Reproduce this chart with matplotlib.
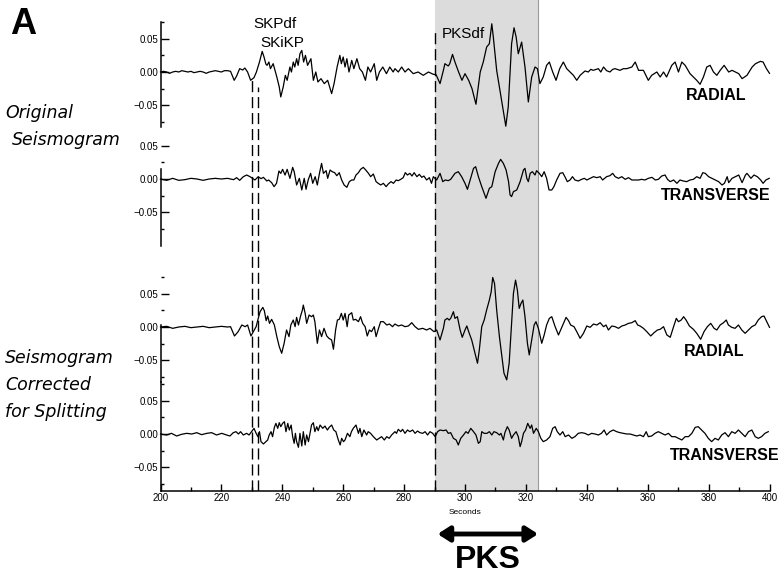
import numpy as np
import matplotlib
matplotlib.use("Agg")
import matplotlib.pyplot as plt
from matplotlib.ticker import FixedLocator, FixedFormatter

# ---------------- data (time in s, amplitude in units of 1e-3) ----------------
AMP_UNIT = 1e-3

radial_original = [
    (200, 0), (201, 1), (202, 0), (203, -2), (204, 0), (205, 1), (206, 0), (207, 2), (208, 1), (209, 0),
    (210, 1), (211, -1), (212, 0), (213, 1), (214, 0), (215, -2), (216, 0), (217, 1), (218, 2), (219, 1),
    (220, 0), (221, 2), (222, 2), (223, 1),
    (224.2, -12.5), (225, -6), (226, 5), (227, 3), (227.7, 6), (228.6, 0), (229.6, -12.5), (230.7, -8.5),
    (231.5, 0), (232.5, 15), (233.4, 31), (234, 22.5), (234.6, 12), (235, 10), (235.6, 15), (236.1, 5),
    (237, 12.5), (238.2, -7.5), (239, -22.5), (239.5, -37.5), (240.3, -22.5), (241, -5), (241.6, -12.5),
    (242.5, 7.5), (243, 0), (243.6, 15), (244.1, 7.5), (244.7, 20), (245.2, 10), (245.8, 27.5), (246.4, 32.5),
    (247, 15), (247.6, 25), (248.3, 10), (249.4, 20), (250.2, -12.5), (251, 0), (251.7, -15), (252.7, -10),
    (253.8, -17.5), (254.9, -12.5), (256.2, -32.5), (257, -17.5), (258, 7.5), (258.9, 25), (259.4, 12.5),
    (260, 22.5), (260.6, 7.5), (261.2, 20), (261.9, 0), (262.8, 17.5), (263.5, 5), (264.5, 20), (265.4, 5),
    (266.3, 0), (267.3, -12.5), (268.1, 7.5), (269, 0), (270.2, 12.5), (271, -12.5), (271.9, 0), (273, 7.5),
    (274.2, -2.5), (275.3, 7.5), (276.4, 0), (277, 5), (278.1, 0), (279.2, 7.5), (280.3, 0), (281.4, 5),
    (283, -2.5), (284.6, 0), (286.3, -5), (288, 0), (289.6, -3.5),
    (290.5, -4), (291.8, -17.5), (292.9, 2.5), (293.4, 12.5), (294.5, 9), (295, 12.5), (295.9, 26.5),
    (296.7, 15), (297.9, 0), (299, -12.5), (300, -2.5), (301.2, -12.5), (302.3, -25), (303.6, -48.5),
    (305, 0), (306, 15), (307.1, 37.5), (308, 42.5), (308.8, 72.5), (309.3, 52.5), (310.4, 2.5),
    (312, -42.5), (313.4, -81.5), (314.2, -52.5), (315.3, 42.5), (316.1, 66.5), (316.8, 52.5),
    (317.5, 27.5), (318.6, 45), (319.7, 7.5), (320.8, -45), (321.9, -7.5), (323, 7.5), (323.8, 5),
    (324.6, -17.5), (325.7, -7.5), (326.8, 10), (327.7, 15), (328.8, 0), (329.9, -12.5), (331.1, 5),
    (332.3, 15), (333.4, 5), (334.5, 0), (335.6, -5), (336.7, -12.5), (337.8, -5), (339.4, 1.5),
    (340.5, 0), (341.3, 4), (342.1, 2.5), (343.8, 5), (344.6, 0), (345.5, 7.5), (346.5, 2), (347.6, 0),
    (348.5, 4), (349.3, 5), (350.9, 2.5), (352, 5), (353.1, 5), (354.8, 7.5), (355.9, 15), (357, 2.5),
    (358.6, 2.5), (360.2, -12.5), (361.3, -5), (363, 0), (364.1, -7.5), (365.2, 0), (366.2, -7.5),
    (367.9, 10), (369, 15), (370.1, 0), (371.2, 15), (372.3, 10), (373.9, -2.5), (375, -7.5),
    (376.1, -12.5), (377.2, -18.5), (378.3, -7.5), (379.4, 7.5), (380.5, 10), (381.6, 0), (382.7, -5),
    (383.8, 2.5), (385.1, 10), (386.6, 0), (387.7, 2.5), (388.8, 0), (389.9, -2.5), (391, -10),
    (392.6, -5), (394.3, 7.5), (395.4, 12.5), (397, 16), (397.9, 15), (399, 5), (400, -2),
]

transverse_original = [
    (200, 0), (202, -2), (204, 1), (206, -2), (208, -1), (210, 1), (212, 0), (214, -2), (216, 0), (218, 1),
    (220, 0), (222, 1), (224, -1), (225, 2), (226, -2),
    (227.2, 3.5), (228.3, 6), (229.4, 3.5), (230.2, 1), (231, -1.5), (232.1, 3.5), (233, 0.5), (233.8, 2.5),
    (234.9, -3), (235.5, -1.5), (236.5, -5.5), (237.3, -11.5), (238.1, -6.5), (238.9, 12), (239.5, 8.5),
    (240.1, 14.5), (240.9, 6), (241.6, 14.5), (242.5, 1), (243.4, 17.5), (243.9, 11), (244.7, -9),
    (245.6, 1), (246.4, -16.5), (247.2, 1), (247.8, -15.5), (248.5, -1.5), (249.3, 8.5), (250, -6.5),
    (250.8, 3.5), (251.5, -9), (252.2, 8.5), (252.9, 23.5), (253.5, 8.5), (254.4, 12.5), (254.9, 1),
    (255.7, 13.5), (256.4, 11), (257.2, 9.5), (257.9, 5), (258.7, 9.5), (259.5, -1.5), (260.3, -9),
    (261.2, -12.5), (262, -4), (262.8, -1.5), (263.5, -1.5), (264.2, 6), (265, 9.5), (265.7, 14.5),
    (266.6, 17.5), (267.4, 13.5), (268.3, 8.5), (269, 3.5), (269.9, 7.5), (270.8, -4), (271.5, -6.5),
    (272.3, -9), (273.2, -6.5), (274.1, -11.5), (274.8, -7.5), (275.7, -4), (276.5, -6.5), (277.4, -1.5),
    (278.1, -2.5), (278.9, -0.5), (279.7, 2), (280.4, 9.5), (281.1, 6), (281.9, 8.5), (282.6, 4.5),
    (283.3, 9.5), (284.2, 3.5), (285, 7), (285.8, 2.5), (286.5, 4.5), (287.4, -1.5), (288.3, 2), (289, -6.5),
    (289.6, 3.5), (290.7, -1.5), (291.8, 8.5), (292.7, -4), (293.5, -1.5), (294.5, -2.5), (295.3, -0.5),
    (296.7, 8.5), (297.8, 11), (298.9, 3.5), (300, -6.5), (300.8, -15.5), (301.7, -1.5), (302.8, 16),
    (303.5, 18.5), (304.4, 3.5), (305.5, -11.5), (306.9, -29), (308, -14), (308.8, -11.5), (309.9, 11),
    (311, 23.5), (311.7, 29.5), (312.6, 23.5), (313.5, 13.5), (314.3, -4), (314.8, -24), (315.3, -26.5),
    (315.9, -19), (317, -16.5), (318.1, -4), (319.2, 13.5), (319.7, 16), (320.3, 1), (320.8, -4),
    (321.4, 8.5), (322.1, 11), (323, 6), (323.5, 12.5), (324.4, 8.5), (325.2, 3.5), (326, 11), (326.8, 1),
    (327.6, -16.5), (328.5, -16.5), (329.2, -11.5), (330.1, -1.5), (331.2, 8.5), (332.1, 9.5), (332.8, 3.5),
    (333.6, -4), (334.5, -1.5), (335.3, 3.5), (336.1, -1.5), (337.2, -3), (338.3, -0.5), (339.2, 1),
    (340, -1.5), (341.1, 1), (342.2, 3.5), (343.3, 2), (344.4, 3.5), (345.2, -1.5), (346.5, 3.5),
    (347.6, 5), (348.5, 8.5), (349.3, 3.5), (350.4, 1), (351.5, 3.5), (352.6, -0.5), (353.7, 2),
    (354.8, -1.5), (355.9, -1.5), (357, -1.5), (358, -0.5), (359.1, -1.5), (360.2, 1), (361.4, 2.5),
    (362.5, -1.5), (363.5, -0.5), (364.6, 4.5), (365.7, 6), (366.5, -0.5), (367.4, -4), (368.5, -1.5),
    (369.6, -6.5), (370.6, -1.5), (371.7, -3), (372.8, -4), (373.9, -1.5), (375, -0.5), (376.1, 3.5),
    (377.2, 1), (378.1, 9.5), (378.9, 8.5), (380, 3.5), (381.1, 1), (382.2, -1.5), (383.3, -4),
    (384.4, -9), (385.2, -6.5), (386.1, 3.5), (386.6, -5.5), (387.7, 1), (388.8, 3.5), (389.9, 6),
    (391, -5.5), (392.1, 6), (392.6, 8.5), (393.9, 1), (394.9, 6), (396, 3.5), (397.1, -1.5),
    (397.9, -6.5), (398.8, -1.5), (399.9, 1),
]

radial_corrected = [
    (200, 0), (202, 1), (204, -2), (206, 0), (208, 1), (210, -1), (212, 0), (214, 1), (216, -1), (218, 0),
    (220, 1), (222, 0), (223, 0.5),
    (224.3, -13.5), (225.5, -7), (226.7, 3), (227.8, 0.5), (228.6, 3), (229.7, -13.5), (230.5, -7),
    (231.4, 0.5), (232.1, 13), (232.7, 23), (233.6, 29.5), (234.1, 24.5), (234.7, 9.5), (235.2, 16.5),
    (235.8, 5.5), (236.5, 11.5), (237.4, 3), (238.2, -14.5), (239, -29.5), (239.8, -39.5), (240.6, -24.5),
    (241.4, -4.5), (242.2, -14.5), (242.8, 3), (243.6, 10.5), (244.2, 0.5), (244.7, 14.5), (245.3, 3),
    (246, 16.5), (246.6, 25.5), (246.9, 33), (247.5, 20.5), (248, 5.5), (248.8, 18), (249.6, 15.5),
    (250.2, 18), (250.7, 8), (251.5, -24.5), (252.2, -4.5), (252.9, -14.5), (253.7, -2), (254.6, -13.5),
    (255.3, -17), (256.2, -19.5), (256.8, -33.5), (257.5, -4.5), (258.1, 10.5), (258.7, 11.5),
    (259.4, 20.5), (260, 10.5), (260.6, 20.5), (261.3, 0.5), (261.8, 18), (262.8, 21.5), (263.3, 10.5),
    (264.1, 11.5), (265, 8), (265.7, 15.5), (266.4, 5.5), (267.2, 0.5), (267.9, -13.5), (268.6, -4.5),
    (269.3, -7), (270.2, 0.5), (270.8, -14.5), (271.6, -2), (272.3, 8), (273.2, 8), (274.3, 3),
    (275.2, 4.5), (276.2, 0.5), (277, 4.5), (278.1, 1.5), (279.2, 3), (280.3, 0.5), (281.4, 1.5),
    (282.5, 6.5), (283.6, 0.5), (284.7, -3.5), (286.1, -2), (287.4, -4.5), (288.5, -2), (289.8, -7),
    (290.7, -4.5), (291.8, -19.5), (292.9, -2), (293.4, 10.5), (294.2, 13), (294.8, 10.5), (295.3, 13),
    (296.2, 23), (296.7, 13), (297.5, 15.5), (298.4, -4.5), (299.1, -15.5), (300, -4.5), (300.6, 1.5),
    (301.4, -9.5), (302.2, -19.5), (303.3, -39.5), (304.1, -54.5), (304.7, -34.5), (305.5, 0.5),
    (306.3, 10.5), (307.1, 25.5), (308, 40.5), (308.6, 53), (309.1, 74.5), (309.7, 65.5), (310.4, 25.5),
    (311.3, -14.5), (312.1, -44.5), (312.8, -69.5), (313.7, -79.5), (314.5, -54.5), (315.1, -9.5),
    (315.9, 50.5), (316.6, 70.5), (317.2, 55.5), (317.8, 28), (318.4, 35.5), (319, 40.5), (319.7, 15.5),
    (320.5, -24.5), (321.1, -42), (321.9, -19.5), (322.7, 3), (323.3, 8), (324.1, -2), (325.2, -24.5),
    (326, -12), (326.8, 3), (327.7, 13), (328.5, 15.5), (329.6, 0.5), (330.7, -12), (331.4, -4.5),
    (332.3, 5.5), (333.2, 14.5), (334, 9.5), (334.7, 3), (335.8, 0.5), (336.7, -7), (337.8, -17),
    (338.9, -9.5), (340, 1.5), (341.1, -0.5), (342.2, 4.5), (343.3, 3), (344.4, 6.5), (345.5, 0.5),
    (346.3, 3), (347.1, -4.5), (348.2, 1.5), (349.3, 0.5), (350.4, -2), (351.5, 1.5), (352.6, 3),
    (353.7, 5.5), (354.8, 6.5), (355.9, 9.5), (356.7, 3), (357.5, 1.5), (358.6, -2), (359.7, -7),
    (361, -13.5), (362.1, -8.5), (363.2, -4.5), (364.1, -3.5), (365.2, 0.5), (366.3, -12), (367.4, -15.5),
    (368.5, 0.5), (369.4, 13), (370.1, 8), (371, 10.5), (371.8, 15.5), (372.6, 10.5), (373.7, 1.5),
    (375, -3.5), (376.1, -9.5), (377.4, -18.5), (378.5, -7), (379.6, 0.5), (380.7, 5.5), (381.8, -2),
    (382.7, -4.5), (383.8, 3), (384.9, 6.5), (385.8, 10.5), (386.5, 3), (387.6, -0.5), (388.7, -2),
    (389.8, 3), (390.9, -4.5), (392, -9.5), (393.1, -4.5), (394.2, 0.5), (395.3, 3), (396.3, 10.5),
    (397.4, 15.5), (398.2, 16.5), (399.1, 8), (400, -0.5),
]

transverse_corrected = [
    (200, 0), (202, -1.5), (203.6, 1), (205.3, -3), (206.9, -0.5), (208.6, 1), (210.3, 0), (211.9, 2),
    (213.5, -1), (215.2, 1), (216.8, 2), (218.4, -1.5), (220.1, 1), (221.7, -1.5), (222.8, -3), (223.9, 2),
    (224.8, 3.5), (225.6, 0), (226.3, 3.5), (227.2, -1.5), (228.3, 1), (229.1, -1.5), (229.9, 3.5),
    (230.7, 8.5), (231.4, 1), (232, -4), (232.5, 3.5), (233, -11.5), (233.8, -15), (234.6, -11.5),
    (235.2, -9), (235.7, -1.5), (236.3, 3.5), (236.8, -4), (237.4, 10), (237.9, 16), (238.5, 8.5),
    (239, 17), (239.5, 11), (240.1, 16), (240.7, 18.5), (241.2, 3.5), (241.8, 16), (242.3, 6),
    (242.9, 13.5), (243.4, -4), (243.9, -14), (244.3, 1), (244.7, -11.5), (245.3, -20), (245.8, 1),
    (246.4, -18), (246.9, 3.5), (247.5, -16.5), (248, -1.5), (248.6, -11.5), (249.1, 1), (249.6, 13.5),
    (250.2, 17), (250.7, 3.5), (251.3, 11), (251.8, 5), (252.4, 13.5), (253.3, 8.5), (254, 12),
    (254.8, 6), (255.4, 10), (256.2, 13.5), (256.9, 6), (257.6, 3.5), (258.4, -9), (259, -16.5),
    (259.5, -6.5), (260.1, -11.5), (260.6, -9), (261.4, 1), (262.2, -4), (262.7, 3.5), (263.3, 8.5),
    (264.2, 13.5), (265, 1), (265.5, 8.5), (266.1, -4), (266.8, 6), (267.7, -1.5), (268.2, 3.5),
    (269, 1), (269.9, -4), (271, -9), (271.8, -6.5), (272.6, -4), (273.5, -9), (274.3, -4),
    (275.1, -6.5), (275.9, -1.5), (277, 3.5), (277.5, 1), (278.1, 7), (278.9, 3.5), (279.5, 7),
    (280.3, 1), (281.1, 6), (281.9, 3.5), (282.8, 6), (283.6, 1), (284.4, 4.5), (285.2, 2), (286.1, 1),
    (286.9, 3.5), (287.7, -1.5), (288.5, 3.5), (289.4, 1), (290.2, -4), (291, 3.5), (291.8, 6),
    (292.9, 5), (293.8, 6), (294.5, 1), (295.3, 2), (296.2, -6.5), (297.1, -9), (297.8, -16.5),
    (298.6, -6.5), (299.5, -1.5), (300.3, 3.5), (301, 1), (301.9, 8.5), (302.8, 3.5), (303.6, -1.5),
    (304.4, -14), (305, -11.5), (305.5, 3.5), (306.3, 1), (307.2, 1), (308, 3.5), (308.8, -1.5),
    (309.5, 3.5), (310.4, 2), (311.3, -1.5), (311.8, 1), (312.6, -9), (313.1, 2), (313.9, 11), (314.5, 6),
    (315.3, -6.5), (315.9, -1.5), (316.8, 3.5), (317.5, -4), (318.1, -19), (318.6, -11.5), (319.2, 1),
    (319.9, 6), (320.6, 16), (321.4, 8.5), (321.9, 13.5), (322.5, 1), (323.4, 8.5), (324.1, 3.5),
    (324.9, -6.5), (325.7, -11.5), (326.8, -9), (327.9, -4), (328.8, 8.5), (329.6, 11), (330.3, 3.5),
    (331.2, -1.5), (332.1, 3.5), (332.9, -4), (334, -1.5), (335.1, -6.5), (336.1, -4), (337.2, 1),
    (338.3, 2), (339.4, 1), (340.5, -1.5), (341.6, 1), (342.7, 0), (343.8, -1.5), (344.8, 1), (345.7, 6),
    (346.5, -1.5), (347.6, 3.5), (348.7, 6), (349.8, 3.5), (350.9, 2), (352, 1), (353.1, 0), (354.2, 0),
    (355.3, -1.5), (356.4, -3), (357.5, -1.5), (358.6, -4), (359.5, 3.5), (360.2, -4), (361.3, -3),
    (362.4, 1), (363.5, 3.5), (364.6, 1), (365.7, -1.5), (366.8, 1), (367.9, -4), (369, -4),
    (370.1, -6.5), (371.2, -9), (372.3, -4), (373.4, -4), (374.5, 1), (375.6, 10), (376.6, 11),
    (377.7, 6), (378.8, 1), (379.9, -6.5), (381, -11.5), (382.1, -6.5), (383.2, -9), (384.3, -1.5),
    (385.4, 2), (386.5, -4), (387.6, 3.5), (388.7, 1), (389.8, 6), (390.9, 1), (392, -4), (393.1, 3.5),
    (394.2, 6), (395.3, -4), (396.3, -6.5), (397.4, -4), (398.5, 1), (399.6, 3.5),
]

trace_names = ["RADIAL", "TRANSVERSE", "RADIAL", "TRANSVERSE"]
traces = [radial_original, transverse_original, radial_corrected, transverse_corrected]

y_major = [-0.05, 0.0, 0.05]
y_major_labels = ["\u22120.05", "0.00", "0.05"]
y_minor = [-0.075, -0.025, 0.025, 0.075]

x_range = (200, 400)
x_major = list(range(200, 401, 20))
x_minor = list(range(210, 400, 20))

phase_marks = [230.2, 231.9, 290]          # SKPdf, SKiKP, PKSdf onsets (s)
pks_window = (290, 324)

# ---------------- layout helpers (pixels) ----------------
W, H = 783, 577
DPI = 100
fig = plt.figure(figsize=(W / DPI, H / DPI), dpi=DPI)

X_L, X_R = 160.5, 769.5
K = 665.0  # pixels per amplitude unit


def rect(l, t, r, b):
    return [l / W, 1 - b / H, (r - l) / W, (b - t) / H]


def fx(px):
    return px / W


def fy(py):
    return 1 - py / H


FONT = "Liberation Sans"

# ---------------- base axes (x axis, shading, phase lines) ----------------
AX_BOTTOM = 490.7
base = fig.add_axes(rect(X_L, 0, X_R, AX_BOTTOM))
base.set_xlim(*x_range)
base.set_ylim(0, 1)
base.patch.set_alpha(0)
for s in ("left", "top", "right"):
    base.spines[s].set_visible(False)
base.spines["bottom"].set_linewidth(1.1)
base.set_yticks([])
base.xaxis.set_major_locator(FixedLocator(x_major))
base.xaxis.set_minor_locator(FixedLocator(x_minor))
base.tick_params(axis="x", which="major", direction="in", length=5, width=1, pad=1.5,
                 labelsize=7)
base.tick_params(axis="x", which="minor", direction="in", length=3, width=1)
for lab in base.get_xticklabels():
    lab.set_fontfamily(FONT)
base.axvspan(pks_window[0], pks_window[1], color="#dcdcdc", zorder=0, lw=0)
base.axvline(pks_window[1], color="#9a9a9a", lw=0.8, zorder=1)

line_tops = [1 - 80 / AX_BOTTOM, 1 - 87 / AX_BOTTOM, 1 - 28 / AX_BOTTOM]
for t, top in zip(phase_marks, line_tops):
    base.axvline(t, ymin=0, ymax=top, color="black", lw=1.0,
                 linestyle=(0, (8, 3.5)), zorder=2)

# ---------------- trace axes ----------------
# (top, zero, bottom, spine_top, spine_bottom) in pixels
trace_layout = [
    (20, 72, 127, 22, 127),
    (140, 179, 246, 169, 246),
    (272, 327, 382, 325, 382),
    (380, 434, AX_BOTTOM, 382, AX_BOTTOM),
]

for data, (top, zero, bottom, s_top, s_bot) in zip(traces, trace_layout):
    ax = fig.add_axes(rect(X_L, top, X_R, bottom))
    ax.patch.set_alpha(0)
    ax.set_xlim(*x_range)
    ax.set_ylim(-(bottom - zero) / K, (zero - top) / K)
    for s in ("top", "right", "bottom"):
        ax.spines[s].set_visible(False)
    ax.spines["left"].set_bounds(-(s_bot - zero) / K, (zero - s_top) / K)
    ax.spines["left"].set_linewidth(1.1)
    ax.set_xticks([])
    ax.yaxis.set_major_locator(FixedLocator(y_major))
    ax.yaxis.set_major_formatter(FixedFormatter(y_major_labels))
    ax.yaxis.set_minor_locator(FixedLocator(y_minor))
    ax.tick_params(axis="y", which="major", direction="in", length=6, width=1, pad=1.5,
                   labelsize=7)
    ax.tick_params(axis="y", which="minor", direction="in", length=2.5, width=1)
    for lab in ax.get_yticklabels():
        lab.set_fontfamily(FONT)
    t = np.array([p[0] for p in data])
    a = np.array([p[1] for p in data]) * AMP_UNIT
    ax.plot(t, a, color="black", lw=0.9, clip_on=False, zorder=3)

# ---------------- texts ----------------
fig.text(fx(10), fy(24), "A", fontsize=26, fontweight="bold", family=FONT, va="center", ha="left")

ital = dict(fontsize=12.5, style="italic", family="DejaVu Sans", va="center", ha="left")
fig.text(fx(5), fy(113), "Original", **ital)
fig.text(fx(12), fy(140), "Seismogram", **ital)
fig.text(fx(5), fy(358), "Seismogram", **ital)
fig.text(fx(5), fy(385), "Corrected", **ital)
fig.text(fx(5), fy(412), "for Splitting", **ital)

phase = dict(fontsize=11, family=FONT, va="center", ha="left")
fig.text(fx(253), fy(24), "SKPdf", **phase)
fig.text(fx(260), fy(43), "SKiKP", **phase)
fig.text(fx(442), fy(34), "PKSdf", **phase)

comp = dict(fontsize=11.5, fontweight="bold", family=FONT, va="center", ha="left")
comp_pos = [(686, 96), (661, 195), (684, 351), (670, 456)]
for name, (px, py) in zip(trace_names, comp_pos):
    fig.text(fx(px), fy(py), name, **comp)

fig.text(fx(465), fy(512), "Seconds", fontsize=6, family=FONT, ha="center", va="center")

base.annotate("", xy=(pks_window[1], fy(534)), xytext=(pks_window[0] + 1, fy(534)),
              xycoords=("data", "figure fraction"), textcoords=("data", "figure fraction"),
              arrowprops=dict(arrowstyle="<|-|>,head_length=0.7,head_width=0.45",
                              lw=3.5, color="black", shrinkA=0, shrinkB=0),
              annotation_clip=False)
fig.text(fx(488), fy(560), "PKS", fontsize=23, fontweight="bold", family=FONT,
         ha="center", va="center")

fig.savefig("out.png", dpi=DPI)
